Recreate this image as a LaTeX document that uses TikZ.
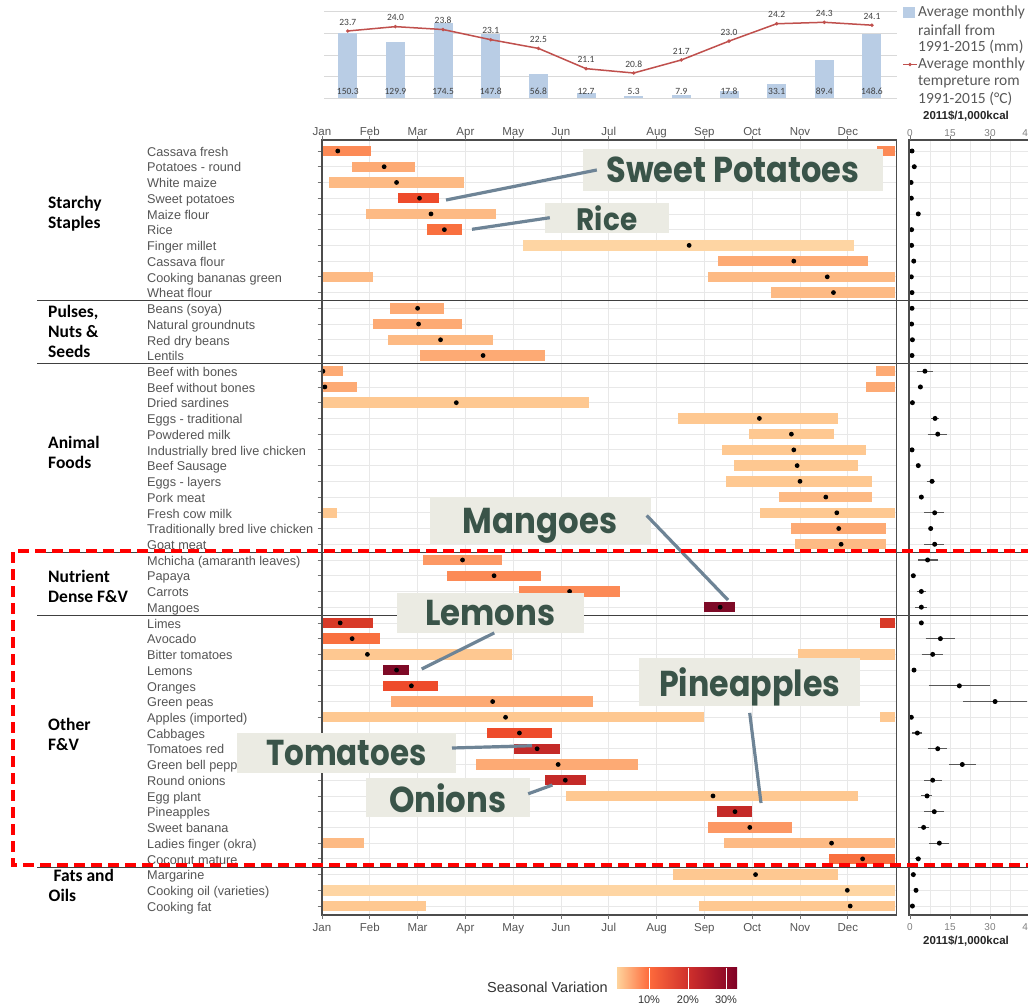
\documentclass[tikz,border=0pt]{standalone}
\usepackage{fontspec}
\setmainfont{Liberation Sans}
\newfontfamily\grpfont{Carlito}
\newfontfamily\callfont{Poppins}
\definecolor{pkA}{HTML}{FED5A3}
\definecolor{pkB}{HTML}{FEC891}
\definecolor{pkC}{HTML}{FDBA84}
\definecolor{pkD}{HTML}{FDAA74}
\definecolor{orA}{HTML}{FC9864}
\definecolor{orB}{HTML}{FC8A56}
\definecolor{orC}{HTML}{F9703F}
\definecolor{rdA}{HTML}{EE4B2B}
\definecolor{rdB}{HTML}{D83A28}
\definecolor{rdC}{HTML}{C42A28}
\definecolor{mrA}{HTML}{7E0A27}
\definecolor{axgray}{HTML}{555555}
\definecolor{gridc}{HTML}{E8E8E8}
\definecolor{raincol}{HTML}{B9CDE5}
\definecolor{tempcol}{HTML}{C0504D}
\definecolor{callbg}{HTML}{EBEBE3}
\definecolor{calltxt}{HTML}{3A5449}
\definecolor{callline}{HTML}{6E8496}
\definecolor{xlgray}{HTML}{404040}
\definecolor{gA}{HTML}{FED39C}
\definecolor{gB}{HTML}{FE6B3C}
\definecolor{gC}{HTML}{D0302C}
\definecolor{gD}{HTML}{7F0026}
\begin{document}
\begin{tikzpicture}[x=1pt,y=-1pt,
 item/.style={anchor=west,inner sep=0pt,text=axgray,font=\fontsize{12.7}{15}\selectfont,text height=10.5pt,text depth=0pt},
 grp/.style={anchor=west,inner sep=0pt,font=\grpfont\bfseries\fontsize{17.5}{20}\selectfont,text height=11.5pt,text depth=3.5pt},
 mon/.style={inner sep=0pt,text=axgray,font=\fontsize{11.5}{13}\selectfont,text height=8.5pt,text depth=0pt},
 rlab/.style={inner sep=0pt,text=black!50,font=\fontsize{10}{12}\selectfont,text height=7.2pt,text depth=0pt},
 unitlab/.style={inner sep=0pt,text=black!85,font=\bfseries\fontsize{11.5}{13}\selectfont},
 num/.style={inner sep=0pt,text=xlgray,font=\grpfont\fontsize{9.5}{11}\selectfont},
 leg/.style={anchor=west,inner sep=0pt,text=black!65,font=\grpfont\fontsize{15.5}{17}\selectfont},
 callbox/.style={fill=callbg,text=calltxt,inner sep=0pt,text depth=0pt,font=\callfont\bfseries\fontsize{36}{40}\selectfont},
 conn/.style={draw=callline,line width=3.2pt},
 grpsep/.style={draw=black!75,line width=1pt},
 gridl/.style={draw=gridc,line width=0.8pt},
 panel/.style={draw=black!70,line width=1.2pt},
 tickl/.style={draw=black!55,line width=0.8pt},
 reddash/.style={draw=red,line width=3.6pt,dash pattern=on 11pt off 6pt}
]
\useasboundingbox (0,0) rectangle (1028,1006);
\fill[white] (0,0) rectangle (1028,1006);

% ---------- top climate chart ----------
\foreach \g in {11.7,33.3,55,76.7,98.3}
  \draw[draw=black!15,line width=0.8pt] (324,\g) -- (896.7,\g);
\foreach \v [count=\k from 0] in {150.3,129.9,174.5,147.8,56.8,12.7,5.3,7.9,17.8,33.1,89.4,148.6}{
  \fill[raincol] ({347.8+47.65*\k-9.5},98.3) rectangle ({347.8+47.65*\k+9.5},{98.3-0.433*\v});
  \node[num] (rain\k) at ({347.8+47.65*\k},91.7) {\v};
}
\foreach \T [count=\k from 0] in {23.7,24.0,23.8,23.1,22.5,21.1,20.8,21.7,23.0,24.2,24.3,24.1}{
  \coordinate (t\k) at ({347.8+47.65*\k},{374.4-14.49*\T});
}
\draw[tempcol,line width=1.5pt] (t0)--(t1)--(t2)--(t3)--(t4)--(t5)--(t6)--(t7)--(t8)--(t9)--(t10)--(t11);
\foreach \T [count=\k from 0] in {23.7,24.0,23.8,23.1,22.5,21.1,20.8,21.7,23.0,24.2,24.3,24.1}{
  \fill[tempcol] (t\k) circle[radius=1.9pt];
  \node[num] (tl\k) at ([yshift=9pt]t\k) {\T};
}
% legend of climate chart
\fill[raincol] (903,7) rectangle (915,18);
\draw[tempcol,line width=1.2pt] (903,64.5) -- (917,64.5);
\fill[tempcol] (910,64.5) circle[radius=1.8pt];
\node[leg] (lg1) at (918,12) {Average monthly};
\node[leg] (lg2) at (918,30) {rainfall from};
\node[leg] (lg3) at (918,47) {1991-2015 (mm)};
\node[leg] (lg4) at (918,64.5) {Average monthly};
\node[leg] (lg5) at (918,82) {tempreture rom};
\node[leg] (lg6) at (918,99) {1991-2015 (°C)};

% ---------- main panel grid ----------
\foreach \m in {0,...,11}
  \draw[gridl] ({322+47.8*\m},140) -- ({322+47.8*\m},915);
\foreach \i in {0,...,48}{
  \draw[gridl] (322,{151+15.73*\i}) -- (896,{151+15.73*\i});
  \draw[gridl] (909,{151+15.73*\i}) -- (1028,{151+15.73*\i});
  \draw[tickl] (317.5,{151+15.73*\i}) -- (322,{151+15.73*\i});
}
\foreach \r in {930,950,970,990,1010}
  \draw[gridl] (\r,140) -- (\r,915);

% ---------- bars ----------
\foreach \i/\a/\b/\c in {0/11.62/11.98/orB,8/0/1.07/pkC,14/11.60/11.98/pkD,15/11.39/11.98/pkD,23/0/0.32/pkB,30/11.68/11.98/rdB,32/9.95/11.98/pkB,36/11.68/11.98/pkB,44/0/0.87/pkC,48/0/2.18/pkB}
  \fill[\c] ({322+47.8*\a},{151+15.73*\i-5.2}) rectangle ({322+47.8*\b},{151+15.73*\i+5.2});
\foreach \i/\a/\b/\d/\c in {0/0/1.02/0.33/orB,1/0.62/1.94/1.30/pkD,2/0.14/2.98/1.56/pkC,3/1.60/2.45/2.04/rdA,4/0.92/3.63/2.28/pkC,5/2.19/2.93/2.56/orC,6/4.21/11.12/7.68/pkA,7/8.29/11.43/9.87/pkD,8/8.08/11.98/10.57/pkC,9/9.40/11.98/10.70/pkC,10/1.43/2.56/2.00/pkD,11/1.07/2.92/2.02/pkD,12/1.38/3.57/2.48/pkC,13/2.04/4.66/3.37/pkD,14/0/0.43/0.02/pkD,15/0/0.74/0.06/pkD,16/0.02/5.58/2.81/pkB,17/7.45/10.79/9.15/pkB,18/8.94/10.71/9.82/pkB,19/8.36/11.39/9.87/pkB,20/8.61/11.22/9.94/pkB,21/8.46/11.50/10.0/pkB,22/9.56/11.50/10.54/pkC,23/9.17/11.98/10.77/pkB,24/9.82/11.79/10.81/pkD,25/9.89/11.79/10.86/pkC,26/2.12/3.77/2.94/orA,27/2.62/4.58/3.60/orB,28/4.12/6.24/5.18/orB,29/8.0/8.63/8.33/mrA,30/0/1.07/0.38/rdB,31/0/1.22/0.63/orC,32/0/3.97/0.95/pkB,33/1.27/1.81/1.56/mrA,34/1.27/2.43/1.87/rdA,35/1.44/5.67/3.57/pkD,36/0/8.0/3.84/pkB,37/3.45/4.82/4.13/rdA,38/4.02/4.97/4.50/rdC,39/3.22/6.61/4.94/pkD,40/4.67/5.52/5.09/rdC,41/5.11/11.22/8.18/pkB,42/8.26/8.99/8.64/rdC,43/8.08/9.83/8.95/orA,44/8.40/11.98/10.66/pkC,45/10.61/11.98/11.31/orC,46/7.34/10.79/9.07/pkB,47/0/11.98/10.99/pkA,48/7.88/11.98/11.05/pkB}{
  \fill[\c] ({322+47.8*\a},{151+15.73*\i-5.2}) rectangle ({322+47.8*\b},{151+15.73*\i+5.2});
  \fill[black] ({322+47.8*\d},{151+15.73*\i}) circle[radius=2.4pt];
}

% ---------- right panel (cost) ----------
\foreach \i/\v/\lo/\hi in {0/0.75/0.75/0.75,1/1.6/1.6/1.6,2/0.4/0.4/0.4,3/0.5/0.5/0.5,4/3.1/3.1/3.1,5/0.6/0.6/0.6,6/0.6/0.6/0.6,7/1.4/1.4/1.4,8/0.5/0.5/0.5,9/0.75/0.75/0.75,10/0.75/0.75/0.75,11/0.6/0.6/0.6,12/0.9/0.9/0.9,13/0.75/0.75/0.75,14/5.6/2.75/8.5,15/3.9/3.9/3.9,16/0.9/0.9/0.9,17/9.4/7.9/10.9,18/10.4/6.6/13.75,19/0.75/0.75/0.75,20/3.1/3.1/3.1,21/8.25/6.25/9.4,22/4.25/4.25/4.25,23/9.25/5.25/12.9,24/7.75/7.2/8.3,25/9.25/5.25/12.9,26/6.6/3.1/10.4,27/1.25/1.25/1.25,28/4.25/2.5/6,29/4.25/2/6.5,30/4.25/4.25/4.25,31/11.4/5.9/17,32/8.5/4.4/12.25,33/1.5/1.5/1.5,34/18.5/7.1/30,35/31.9/20/43.75,36/0.5/0.5/0.5,37/2.75/0.9/4.6,38/10.4/6.9/13.75,39/19.6/14.75/24.6,40/8.5/5.4/11.9,41/6.4/4.25/8.4,42/9.1/5.4/12.9,43/5.1/3.1/7.1,44/11/7.1/14.75,45/3.1/2/4.25,46/1.25/1.25/1.25,47/2.25/2.25/2.25,48/0.9/0.9/0.9}{
  \draw[black!65,line width=1.1pt] ({910+2.667*\lo},{151+15.73*\i}) -- ({910+2.667*\hi},{151+15.73*\i});
  \fill[black] ({910+2.667*\v},{151+15.73*\i}) circle[radius=2.5pt];
}

% ---------- group separators and borders ----------
\foreach \s in {300.5,363,552,615,867}
  \draw[grpsep] (37,\s) -- (1028,\s);
\draw[panel] (322,140) rectangle (896.5,915);
\draw[panel] (909,140) rectangle (1040,915);
\foreach \m/\n in {0/Jan,1/Feb,2/Mar,3/Apr,4/May,5/Jun,6/Jul,7/Aug,8/Sep,9/Oct,10/Nov,11/Dec}{
  \draw[tickl] ({322+47.8*\m},136) -- ({322+47.8*\m},140);
  \draw[tickl] ({322+47.8*\m},915) -- ({322+47.8*\m},919);
  \node[mon] (mt\m) at ({322+47.8*\m},131.5) {\n};
  \node[mon] (mb\m) at ({322+47.8*\m},927.5) {\n};
}
\foreach \v in {0,15,30}{
  \draw[tickl] ({910+2.667*\v},136) -- ({910+2.667*\v},140);
  \draw[tickl] ({910+2.667*\v},915) -- ({910+2.667*\v},919);
  \node[rlab] (rt\v) at ({910+2.667*\v},133) {\v};
  \node[rlab] (rb\v) at ({910+2.667*\v},927) {\v};
}
\node[rlab,anchor=east] (rt45) at (1028,133) {4};
\node[rlab,anchor=east] (rb45) at (1028,927) {4};
\node[unitlab] (unitT) at (966,116) {2011\$/1,000kcal};
\node[unitlab] (unitB) at (966,941) {2011\$/1,000kcal};

% ---------- item labels ----------
\foreach \i/\t in {0/Cassava fresh,1/Potatoes - round,2/White maize,3/Sweet potatoes,4/Maize flour,5/Rice,6/Finger millet,7/Cassava flour,8/Cooking bananas green,9/Wheat flour,10/Beans (soya),11/Natural groundnuts,12/Red dry beans,13/Lentils,14/Beef with bones,15/Beef without bones,16/Dried sardines,17/Eggs - traditional,18/Powdered milk,19/Industrially bred live chicken,20/Beef Sausage,21/Eggs - layers,22/Pork meat,23/Fresh cow milk,24/Traditionally bred live chicken,25/Goat meat,26/Mchicha (amaranth leaves),27/Papaya,28/Carrots,29/Mangoes,30/Limes,31/Avocado,32/Bitter tomatoes,33/Lemons,34/Oranges,35/Green peas,36/Apples (imported),37/Cabbages,38/Tomatoes red,39/Green bell peppers,40/Round onions,41/Egg plant,42/Pineapples,43/Sweet banana,44/Ladies finger (okra),45/Coconut mature,46/Margarine,47/Cooking oil (varieties),48/Cooking fat}
  \node[item] (lab\i) at (147,{151+15.73*\i}) {\t};

% ---------- group labels ----------
\node[grp] (gA1) at (48,204) {Starchy};
\node[grp] (gA2) at (48,224) {Staples};
\node[grp] (gB1) at (48,313.5) {Pulses,};
\node[grp] (gB2) at (48,333.5) {Nuts \&};
\node[grp] (gB3) at (48,353.5) {Seeds};
\node[grp] (gC1) at (48,444.3) {Animal};
\node[grp] (gC2) at (48,464.3) {Foods};
\node[grp] (gD1) at (48,578.5) {Nutrient};
\node[grp] (gD2) at (48,598.5) {Dense F\&V};
\node[grp] (gE1) at (48,726.7) {Other};
\node[grp] (gE2) at (48,746.7) {F\&V};
\node[grp] (gF1) at (53.3,877.7) {Fats and};
\node[grp] (gF2) at (48.5,897.7) {Oils};

% ---------- callouts ----------
\node[callbox,minimum width=300pt,minimum height=42pt] (cSP) at (733,170) {\scalebox{0.89}[1]{Sweet Potatoes}};
\node[callbox,minimum width=124pt,minimum height=30pt,font=\callfont\bfseries\fontsize{31}{32}\selectfont] (cRice) at (607,217.7) {\scalebox{0.9}[1]{Rice}};
\node[callbox,minimum width=221pt,minimum height=47.6pt] (cMan) at (540,520.5) {\scalebox{0.9}[1]{Mangoes}};
\node[callbox,minimum width=186.6pt,minimum height=39.4pt] (cLem) at (490.3,613) {\scalebox{0.9}[1]{Lemons}};
\node[callbox,minimum width=221.3pt,minimum height=47.4pt] (cPine) at (749.7,682) {\scalebox{0.88}[1]{Pineapples}};
\node[callbox,minimum width=219pt,minimum height=39.4pt] (cTom) at (346.3,753) {\scalebox{0.86}[1]{Tomatoes}};
\node[callbox,minimum width=164.4pt,minimum height=39pt] (cOni) at (447.8,797.8) {\scalebox{0.9}[1]{Onions}};

\coordinate (spA) at (446,200);
\coordinate (riA) at (472,229.3);
\coordinate (mgA) at (728,600);
\coordinate (lmA) at (421.7,669);
\coordinate (paA) at (761,803);
\coordinate (tmA) at (532,745.7);
\coordinate (onA) at (552.4,785);
\draw[conn] (spA) -- ([xshift=14pt]cSP.west);
\draw[conn] (riA) -- ([xshift=5pt]cRice.west);
\draw[conn] (mgA) -- ([xshift=-4pt,yshift=5pt]cMan.east);
\draw[conn] (lmA) -- ([xshift=4pt]cLem.south);
\draw[conn] (paA) -- ([yshift=-7pt]cPine.south);
\draw[conn] (tmA) -- ([xshift=-4pt,yshift=5pt]cTom.east);
\draw[conn] (onA) -- ([xshift=-2pt,yshift=4pt]cOni.east);

% ---------- colour legend ----------
\node[anchor=east,inner sep=0pt,text=black!80,font=\fontsize{14.5}{16}\selectfont] (svl) at (608,987) {Seasonal Variation};
\shade[left color=gA,right color=gB] (617,967.5) rectangle (649,988.5);
\shade[left color=gB,right color=gC] (648.8,967.5) rectangle (688,988.5);
\shade[left color=gC,right color=gD] (687.8,967.5) rectangle (737,988.5);
\foreach \x/\t in {649/10\%,688/20\%,726/30\%}{
  \draw[white,line width=0.8pt] (\x,967.5) -- (\x,988.5);
  \node[inner sep=0pt,text=black!80,font=\fontsize{11}{13}\selectfont] (sv\x) at (\x,1000) {\t};
}

% ---------- red dashed highlight ----------
\draw[reddash] (1032,551) -- (13,551) -- (13,865) -- (1032,865);
\end{tikzpicture}
\end{document}
